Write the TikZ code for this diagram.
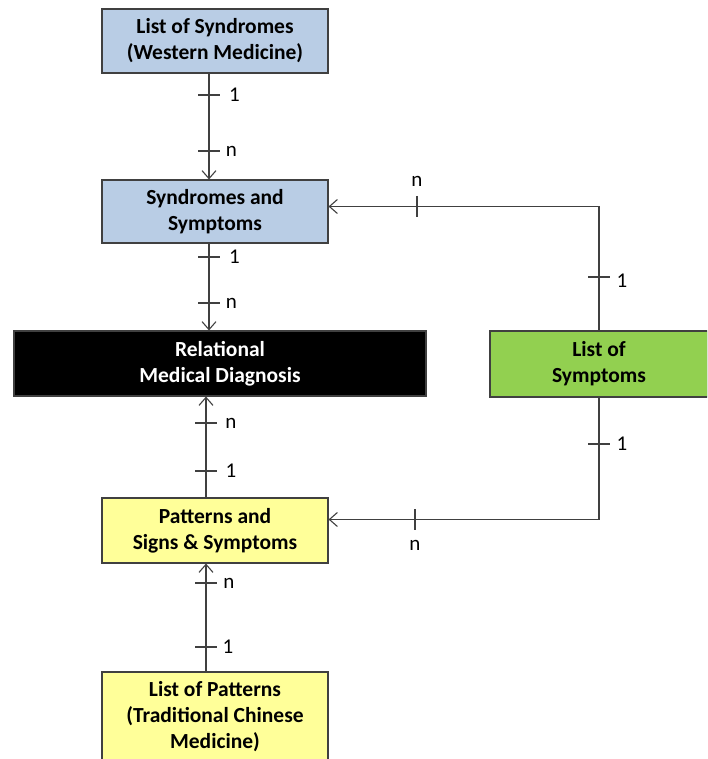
\documentclass[tikz,border=0pt]{standalone}
\usepackage{fontspec}
\setmainfont{Carlito}
\usetikzlibrary{arrows.meta}
\definecolor{blueF}{HTML}{B9CDE5}
\definecolor{yellowF}{HTML}{FFFF99}
\definecolor{greenF}{HTML}{92D050}
\definecolor{lineC}{HTML}{404040}
\begin{document}
\begin{tikzpicture}[x=1pt,y=-1pt,
  box/.style={draw=lineC, line width=1.1pt, rectangle, align=center, inner sep=0pt,
    font=\fontsize{21.5}{26}\selectfont\bfseries, text=black},
  conn/.style={draw=lineC, line width=1.1pt, -{Straight Barb[length=8pt,width=14pt,line width=1.1pt]}},
  tk/.style={draw=lineC, line width=1.1pt},
  lbl/.style={font=\fontsize{21}{24}\selectfont, text=black, inner sep=0pt}]
\useasboundingbox (0,0) rectangle (707,759);
\begin{scope}
\clip (0,0) rectangle (707,759);
\node[box, fill=blueF, minimum width=226pt, minimum height=64pt] (lsw) at (215,41) {List of Syndromes\\(Western Medicine)};
\node[box, fill=blueF, minimum width=226pt, minimum height=63pt] (ss) at (215,211.5) {Syndromes and\\Symptoms};
\node[box, fill=black, text=white, minimum width=412pt, minimum height=65pt] (rmd) at (220,363.5) {Relational\\Medical Diagnosis};
\node[box, fill=greenF, minimum width=218pt, minimum height=66pt] (ls) at (599,364) {List of\\Symptoms};
\node[box, fill=yellowF, minimum width=226pt, minimum height=65pt] (ps) at (215,530.5) {Patterns and\\Signs \& Symptoms};
\node[box, fill=yellowF, minimum width=226pt, minimum height=90pt] (lp) at (215,717) {List of Patterns\\(Traditional Chinese\\Medicine)};
\end{scope}

\coordinate (xa) at (209,0);
\coordinate (xb) at (206,0);

% left column connectors
\draw[conn] (lsw.south -| xa) -- (ss.north -| xa);
\draw[conn] (ss.south -| xa) -- (rmd.north -| xa);
\draw[conn] (ps.north -| xb) -- (rmd.south -| xb);
\draw[conn] (lp.north -| xb) -- (ps.south -| xb);

% right connectors
\draw[conn] (ls.north) |- ([yshift=5pt]ss.east);
\draw[conn] (ls.south) |- ([yshift=11pt]ps.east);

% ticks and labels, left column
\draw[tk] (198,95) -- (220,95);  \node[lbl] at (234.5,95) {1};
\draw[tk] (198,151) -- (220,151); \node[lbl] at (231.5,151) {n};
\draw[tk] (198,257) -- (220,257); \node[lbl] at (234.5,257) {1};
\draw[tk] (198,303) -- (220,303); \node[lbl] at (231.5,303) {n};
\draw[tk] (195,423) -- (217,423); \node[lbl] at (231,423) {n};
\draw[tk] (195,471) -- (217,471); \node[lbl] at (231,471) {1};
\draw[tk] (195,583) -- (217,583); \node[lbl] at (229,583) {n};
\draw[tk] (195,647) -- (217,647); \node[lbl] at (228,647) {1};

% ticks and labels, right
\draw[tk] (417,196) -- (417,217); \node[lbl] at (417,181) {n};
\draw[tk] (588,277) -- (610,277); \node[lbl] at (622,281) {1};
\draw[tk] (588,444) -- (610,444); \node[lbl] at (622,444) {1};
\draw[tk] (415,509) -- (415,530); \node[lbl] at (415,545) {n};
\end{tikzpicture}
\end{document}
